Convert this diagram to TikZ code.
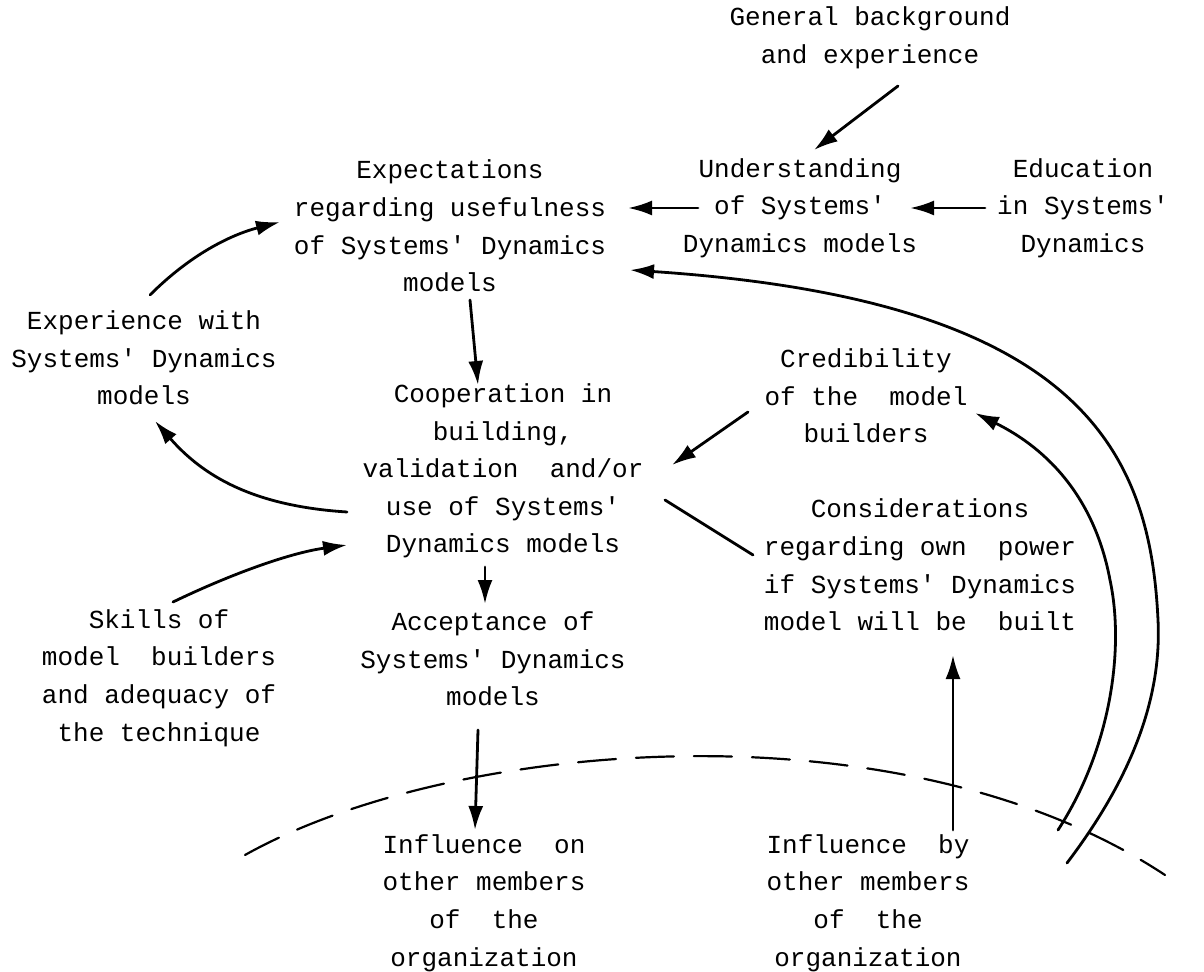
\documentclass[tikz,border=0pt]{standalone}
\usepackage{fontspec}
\setmonofont{Liberation Mono}
\usetikzlibrary{arrows.meta,calc}
\tikzset{
  box/.style={align=center, inner sep=2pt},
  link/.style={-{Latex[length=12pt,width=7.5pt]}},
}
\begin{document}
\begin{tikzpicture}[x=0.5pt, y=-0.5pt, font=\ttfamily\fontsize{13}{18.8}\selectfont, line width=1.4pt, line join=round, line cap=round]
		\useasboundingbox (0,0) rectangle (1204,972);
		% the nodes
		\node[box] (gen) at (870,38) {General background\\and experience};
		\node[box] (und) at (800,208) {Understanding\\of Systems'\\Dynamics models};
		\node[box] (edu) at (1083,208) {Education\\in Systems'\\Dynamics};
		\node[box] (exp) at (450,226) {Expectations\\regarding usefulness\\of Systems' Dynamics\\models};
		\node[box] (expw) at (144,358) {Experience with\\Systems' Dynamics\\models};
		\node[box] (coop) at (503,471) {Cooperation in\\building,\\validation\ \ and/or\\use of Systems'\\Dynamics models};
		\node[box] (cred) at (866,396) {Credibility\\of the\ \ model\\builders};
		\node[box] (cons) at (920,565) {Considerations\\regarding own\ \ power\\if Systems' Dynamics\\model will be\ \ built};
		\node[box] (acc) at (493,659) {Acceptance of\\Systems' Dynamics\\models};
		\node[box] (skil) at (159,678) {Skills of\\model\ \ builders\\and adequacy of\\the technique};
		\node[box] (infon) at (484,903) {Influence\ \ on\\other members\\of\ \ the\\organization};
		\node[box] (infby) at (868,903) {Influence\ \ by\\other members\\of\ \ the\\organization};
		% the arrows
		\draw[link] ($(gen)+(28,48)$) -- ($(und)+(14,-58)$);
		\draw[link] ($(und)+(-102,0)$) -- ($(exp)+(178,-18)$);
		\draw[link] ($(edu)+(-98,0)$) -- ($(und)+(110,0)$);
		\draw[link] ($(expw)+(6,-63)$) .. controls ($(expw)+(46,-103)$) and ($(expw)+(86,-123)$) .. ($(exp)+(-170,-4)$);
		\draw[link] ($(exp)+(20,74)$) -- ($(coop)+(-25,-86)$);
		\draw[link] ($(coop)+(-156,41)$) .. controls ($(coop)+(-250,35)$) and ($(coop)+(-300,5)$) .. ($(expw)+(11,63)$);
		\draw[link] ($(skil)+(14,-76)$) .. controls ($(skil)+(70,-103)$) and ($(skil)+(130,-125)$) .. ($(coop)+(-156,74)$);
		\draw[link] ($(cred)+(-118,16)$) -- ($(coop)+(169,-6)$);
		\draw ($(coop)+(162,29)$) -- ($(cons)+(-167,-10)$);
		\draw[link] ($(coop)+(-18,96)$) -- ($(acc)+(-8,-55)$);
		\draw[link] ($(acc)+(-15,71)$) -- ($(infon)+(-9,-73)$);
		\draw[link] ($(infby)+(85,-73)$) -- ($(cons)+(33,90)$);
		\draw[link] ($(infby)+(199,-40)$) .. controls ($(infby)+(262,-123)$) and ($(infby)+(294,-203)$) .. ($(infby)+(290,-283)$)
			.. controls ($(infby)+(282,-453)$) and ($(infby)+(212,-603)$) .. ($(exp)+(180,44)$);
		\draw[link] ($(infby)+(190,-73)$) .. controls ($(infby)+(242,-153)$) and ($(infby)+(257,-253)$) .. ($(infby)+(242,-323)$)
			.. controls ($(infby)+(227,-403)$) and ($(cred)+(184,54)$) .. ($(cred)+(109,17)$);
		% border of the organization
		\draw[line width=1.1pt, dash pattern=on 19pt off 10pt] (245,855) .. controls (450,740) and (900,700) .. (1165,875);
	\end{tikzpicture}
\end{document}
